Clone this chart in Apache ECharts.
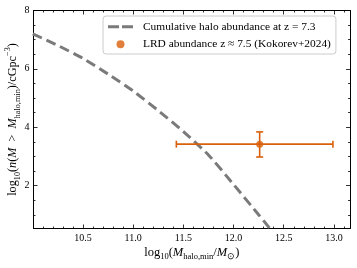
<!DOCTYPE html>
<html>
<head>
<meta charset="utf-8">
<script src="https://cdn.jsdelivr.net/npm/echarts@6/dist/echarts.min.js"></script>
<style>html,body{margin:0;padding:0;background:#fff}#c{width:357px;height:268px}</style>
</head>
<body>
<div id="c"></div>
<script>
// ---- data ----
const curveX = [10.0, 10.25, 10.5, 10.75, 11.0, 11.25, 11.5, 11.75, 12.0, 12.25, 12.35, 12.5, 12.6];
const curveY = [7.2, 6.8, 6.36, 5.82, 5.24, 4.57, 3.85, 3.05, 2.04, 1.00, 0.58, -0.15, -0.7];
const pointX = [12.26];
const pointY = [3.42];
const xErrLo = [11.43];
const xErrHi = [12.99];
const yErrLo = [2.98];
const yErrHi = [3.84];
const xMajorTicks = [10.5, 11.0, 11.5, 12.0, 12.5, 13.0];
const yMajorTicks = [2, 4, 6, 8];
const xRange = [10.007, 13.16];
const yRange = [0.53, 8.0];
const curveName = 'Cumulative halo abundance at z = 7.3';
const pointName = 'LRD abundance z ≈ 7.5 (Kokorev+2024)';

const xMinorTicks = [];
for (let i = 101; i <= 131; i++) { if (i % 5 !== 0) xMinorTicks.push(i / 10); }
const yMinorTicks = [];
for (let i = 1; i <= 16; i++) { if (i % 4 !== 0) yMinorTicks.push(i / 2); }

const FONT = 'Liberation Serif';
const BLACK = '#000';
const ORANGE = '#d9600b';
const GRAY = '#7a7a7a';

const curveData = curveX.map((x, i) => [x, curveY[i]]);
const pointData = pointX.map((x, i) => [x, pointY[i]]);
const errData = pointX.map((x, i) => [x, pointY[i], xErrLo[i], xErrHi[i], yErrLo[i], yErrHi[i]]);

function makeRich(fs) {
  return {
    r: {fontFamily: FONT, fontSize: fs, color: BLACK, lineHeight: 18, verticalAlign: 'middle'},
    i: {fontFamily: FONT, fontSize: fs, fontStyle: 'italic', color: BLACK, lineHeight: 18, verticalAlign: 'middle'},
    sub: {fontFamily: FONT, fontSize: fs * 0.68, color: BLACK, lineHeight: 9, verticalAlign: 'bottom'},
    sup: {fontFamily: FONT, fontSize: fs * 0.68, color: BLACK, lineHeight: 9, verticalAlign: 'top'}
  };
}

function xAxisDef(pos, ticks, len, labels, showLine) {
  const a = {
    type: 'value', position: pos, min: xRange[0], max: xRange[1],
    axisLine: {show: showLine, onZero: false, lineStyle: {color: BLACK, width: 1}},
    axisTick: {show: true, inside: true, length: len, customValues: ticks, lineStyle: {color: BLACK, width: 0.8}},
    axisLabel: {show: false},
    splitLine: {show: false}
  };
  if (labels) {
    a.axisLabel = {show: true, customValues: xMajorTicks, formatter: v => v.toFixed(1), color: BLACK,
      fontFamily: FONT, fontSize: 10, margin: 5};
    a.name = '{r|log}{sub|10}{r|(}{i|M}{sub|halo,min}{r|/}{i|M}{sub|⊙}{r|)}';
    a.nameLocation = 'middle';
    a.nameGap = 15;
    a.nameMoveOverlap = false;
    a.nameTextStyle = {rich: makeRich(12.5)};
  }
  return a;
}
function yAxisDef(pos, ticks, len, labels, showLine) {
  const a = {
    type: 'value', position: pos, min: yRange[0], max: yRange[1],
    axisLine: {show: showLine, onZero: false, lineStyle: {color: BLACK, width: 1}},
    axisTick: {show: true, inside: true, length: len, customValues: ticks, lineStyle: {color: BLACK, width: 0.8}},
    axisLabel: {show: false},
    splitLine: {show: false}
  };
  if (labels) {
    a.axisLabel = {show: true, customValues: yMajorTicks, formatter: v => String(v), color: BLACK,
      fontFamily: FONT, fontSize: 10, margin: 4};
    a.name = '{r|log}{sub|10}{r|(}{i|n}{r|(}{i|M}{r|\u2002>\u2002}{i|M}{sub|halo,min}{r|)/cGpc}{sup|−3}{r|)}';
    a.nameLocation = 'middle';
    a.nameGap = 12;
    a.nameMoveOverlap = false;
    a.nameRotate = 90;
    a.nameTextStyle = {rich: makeRich(12.2)};
  }
  return a;
}

const chart = echarts.init(document.getElementById('c'), null, {renderer: 'canvas'});
chart.setOption({
  backgroundColor: '#fff',
  animation: false,
  grid: {left: 33.5, top: 10.5, right: 7, bottom: 39.5, outerBoundsMode: 'none', containLabel: false},
  xAxis: [
    xAxisDef('bottom', xMajorTicks, 4, true, true),
    xAxisDef('bottom', xMinorTicks, 2, false, false),
    xAxisDef('top', xMajorTicks, 4, false, true),
    xAxisDef('top', xMinorTicks, 2, false, false)
  ],
  yAxis: [
    yAxisDef('left', yMajorTicks, 4, true, true),
    yAxisDef('left', yMinorTicks, 2, false, false),
    yAxisDef('right', yMajorTicks, 4, false, true),
    yAxisDef('right', yMinorTicks, 2, false, false)
  ],
  legend: {
    orient: 'vertical', left: 103, top: 16,
    padding: [4, 5, 3, 5], itemGap: 4, itemWidth: 25, itemHeight: 8,
    backgroundColor: 'rgba(255,255,255,0.85)', borderColor: '#cccccc', borderWidth: 1, borderRadius: 3,
    textStyle: {fontFamily: FONT, fontSize: 11.4, color: BLACK, lineHeight: 13.5, padding: [0, 0, 0, 5]},
    data: [
      {name: curveName, icon: 'path://M0,0h11v3h-11z M14,0h11v3h-11z', itemStyle: {color: GRAY}},
      {name: pointName, icon: 'circle'}
    ]
  },
  series: [
    {
      name: curveName, type: 'line', data: curveData, smooth: 0.2, showSymbol: false, symbol: 'none',
      xAxisIndex: 0, yAxisIndex: 0, clip: true,
      lineStyle: {color: GRAY, width: 3, type: [10, 5]}, itemStyle: {color: GRAY}, z: 2
    },
    {
      name: 'err', type: 'custom', data: errData, xAxisIndex: 0, yAxisIndex: 0, z: 3,
      renderItem: function (params, api) {
        const x = api.value(0), y = api.value(1);
        const L = api.coord([api.value(2), y]), R = api.coord([api.value(3), y]);
        const T = api.coord([x, api.value(5)]), B = api.coord([x, api.value(4)]);
        const cap = 3.5;
        const st = {stroke: ORANGE, lineWidth: 1.6};
        const ln = (x1, y1, x2, y2) => ({type: 'line', shape: {x1, y1, x2, y2}, style: st});
        return {type: 'group', children: [
          ln(L[0], L[1], R[0], R[1]),
          ln(T[0], T[1], B[0], B[1]),
          ln(L[0], L[1] - cap, L[0], L[1] + cap),
          ln(R[0], R[1] - cap, R[0], R[1] + cap),
          ln(T[0] - cap, T[1], T[0] + cap, T[1]),
          ln(B[0] - cap, B[1], B[0] + cap, B[1])
        ]};
      }
    },
    {
      name: pointName, type: 'scatter', data: pointData, symbol: 'circle', symbolSize: 7,
      xAxisIndex: 0, yAxisIndex: 0, itemStyle: {color: ORANGE}, z: 4
    }
  ]
});
</script>
</body>
</html>
